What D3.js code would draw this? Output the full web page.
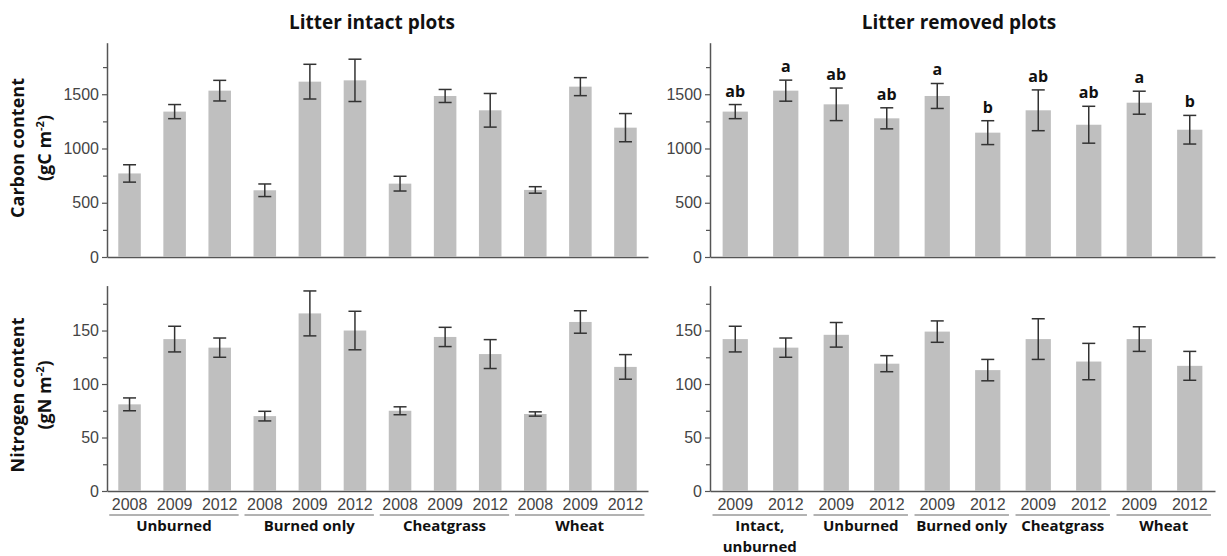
<!DOCTYPE html>
<html>
<head>
<meta charset="utf-8">
<script src="https://cdn.jsdelivr.net/npm/d3@7"></script>
<style>
  body { margin: 0; background: #fff; }
  svg text { font-family: "Liberation Sans", Arial, sans-serif; }
  .bold { font-family: "Open Sans", sans-serif; font-weight: 700; fill: #111; }
</style>
</head>
<body>
<svg id="chart" width="1227" height="556"></svg>
<script>
// ---------- data ----------
const intactGroups = ['Unburned', 'Burned only', 'Cheatgrass', 'Wheat']
const intactYears = ['2008', '2009', '2012']
const intactCarbon = [770, 1340, 1533, 615, 1616, 1628, 676, 1484, 1352, 618, 1570, 1192]
const intactCarbonErr = [80, 65, 95, 58, 160, 195, 68, 60, 155, 30, 83, 130]
const intactNitrogen = [81, 142, 134, 70, 166, 150, 75, 144, 128, 72, 158, 116]
const intactNitrogenErr = [6, 12, 9, 4.5, 21, 18, 3.7, 9, 13.5, 2, 10.5, 11.5]

const removedGroups = ['Intact,|unburned', 'Unburned', 'Burned only', 'Cheatgrass', 'Wheat']
const removedYears = ['2009', '2012']
const removedCarbon = [1340, 1533, 1407, 1278, 1484, 1146, 1352, 1219, 1422, 1173]
const removedCarbonErr = [65, 97, 150, 97, 115, 110, 188, 170, 106, 132]
const removedLetters = ['ab', 'a', 'ab', 'ab', 'a', 'b', 'ab', 'ab', 'a', 'b']
const removedNitrogen = [142, 134, 146, 119, 149, 113, 142, 121, 142, 117]
const removedNitrogenErr = [12, 9, 11.5, 7.5, 10, 10, 19, 17, 11.5, 13.5]

const carbonMajor = [0, 500, 1000, 1500]
const carbonMinor = [250, 750, 1250, 1750]
const nitrogenMajor = [0, 50, 100, 150]
const nitrogenMinor = [25, 75, 125, 175]

const titles = ['Litter intact plots', 'Litter removed plots']

// ---------- helpers ----------
const svg = d3.select('#chart')
const BAR = '#bfbfbf'
const AXIS = '#555'

function makeKeys (groups, years) {
  const keys = []
  groups.forEach(g => years.forEach(y => keys.push(g + '/' + y)))
  return keys
}

function drawYAxis (g, y, x0, major, minor) {
  g.append('g')
    .attr('transform', 'translate(' + x0 + ',0)')
    .call(d3.axisLeft(y).tickValues(minor).tickSize(4).tickSizeOuter(0).tickFormat(''))
    .call(a => a.select('.domain').remove())
    .call(a => a.selectAll('line').attr('stroke', AXIS).attr('stroke-width', 1.2))

  g.append('g')
    .attr('transform', 'translate(' + x0 + ',0)')
    .call(d3.axisLeft(y).tickValues(major).tickSize(5).tickSizeOuter(0).tickPadding(3)
      .tickFormat(d3.format('d')))
    .call(a => a.select('.domain').attr('stroke', AXIS).attr('stroke-width', 1.5))
    .call(a => a.selectAll('line').attr('stroke', AXIS).attr('stroke-width', 1.2))
    .call(a => a.selectAll('text').attr('font-size', 16).attr('fill', '#444')
      .attr('font-family', 'Liberation Sans, Arial, sans-serif'))
}

function drawPanel (opts) {
  const { x, y, keys, values, errs, years, groups, showX, letters } = opts
  const g = svg.append('g')

  // x axis line (and year labels on the bottom row)
  const xa = g.append('g')
    .attr('transform', 'translate(0,' + y(0) + ')')
    .call(d3.axisBottom(x).tickSize(0).tickPadding(8)
      .tickFormat(k => showX ? k.split('/')[1] : ''))
  xa.select('.domain').attr('stroke', AXIS).attr('stroke-width', 1.5)
  xa.selectAll('text').attr('font-size', 16).attr('fill', '#444')
    .attr('font-family', 'Liberation Sans, Arial, sans-serif')

  // bars
  g.selectAll('.bar')
    .data(keys)
    .enter()
    .append('rect')
    .attr('class', 'bar')
    .attr('x', k => x(k))
    .attr('width', x.bandwidth())
    .attr('y', (k, i) => y(values[i]))
    .attr('height', (k, i) => y(0) - y(values[i]))
    .attr('fill', BAR)

  // error bars
  const cap = 6.5
  const eb = g.selectAll('.err')
    .data(keys)
    .enter()
    .append('g')
    .attr('class', 'err')
    .attr('stroke', '#333')
    .attr('stroke-width', 1.5)
  eb.append('line')
    .attr('x1', k => x(k) + x.bandwidth() / 2)
    .attr('x2', k => x(k) + x.bandwidth() / 2)
    .attr('y1', (k, i) => y(values[i] + errs[i]))
    .attr('y2', (k, i) => y(values[i] - errs[i]))
  eb.append('line')
    .attr('x1', k => x(k) + x.bandwidth() / 2 - cap)
    .attr('x2', k => x(k) + x.bandwidth() / 2 + cap)
    .attr('y1', (k, i) => y(values[i] + errs[i]))
    .attr('y2', (k, i) => y(values[i] + errs[i]))
  eb.append('line')
    .attr('x1', k => x(k) + x.bandwidth() / 2 - cap)
    .attr('x2', k => x(k) + x.bandwidth() / 2 + cap)
    .attr('y1', (k, i) => y(values[i] - errs[i]))
    .attr('y2', (k, i) => y(values[i] - errs[i]))

  // significance letters
  if (letters) {
    g.selectAll('.letter')
      .data(keys)
      .enter()
      .append('text')
      .attr('class', 'bold')
      .attr('x', k => x(k) + x.bandwidth() / 2)
      .attr('y', (k, i) => y(values[i] + errs[i]) - 8)
      .attr('text-anchor', 'middle')
      .attr('font-size', 16)
      .text((k, i) => letters[i])
  }

  // group underlines + names (one text element per line)
  if (showX) {
    const step = x.step()
    groups.forEach(grp => {
      const first = x(grp + '/' + years[0]) + x.bandwidth() / 2
      const last = x(grp + '/' + years[years.length - 1]) + x.bandwidth() / 2
      const x1 = first - step * 0.45
      const x2 = last + step * 0.42
      const ly = y(0) + 24
      g.append('line')
        .attr('x1', x1).attr('x2', x2)
        .attr('y1', ly).attr('y2', ly)
        .attr('stroke', '#666').attr('stroke-width', 1)
      grp.split('|').forEach((part, j) => {
        g.append('text')
          .attr('class', 'bold')
          .attr('x', (x1 + x2) / 2)
          .attr('y', ly + 16 + j * 20.5)
          .attr('text-anchor', 'middle')
          .attr('font-size', 15)
          .text(part)
      })
    })
  }
  return g
}

function yTitle (cx, cy, line1, unit) {
  const g = svg.append('g').attr('transform', 'translate(' + cx + ',' + cy + ') rotate(-90)')
  g.append('text').attr('class', 'bold').attr('text-anchor', 'middle')
    .attr('y', 6).attr('font-size', 18).text(line1)
  const t = g.append('text').attr('class', 'bold').attr('text-anchor', 'middle')
    .attr('y', 33).attr('font-size', 18)
  t.append('tspan').text('(' + unit + ' m')
  t.append('tspan').attr('dy', -7).attr('font-size', 11).text('-2')
  t.append('tspan').attr('dy', 7).text(')')
}

// ---------- scales ----------
const intactKeys = makeKeys(intactGroups, intactYears)
const removedKeys = makeKeys(removedGroups, removedYears)

const xLeft = d3.scaleBand().domain(intactKeys).range([107, 648])
  .paddingInner(0.5).paddingOuter(0.25)
const xRight = d3.scaleBand().domain(removedKeys).range([710, 1215])
  .paddingInner(0.5).paddingOuter(0.25)

const yCarbon = d3.scaleLinear().domain([0, 1975]).range([257, 42.7])
const yNitrogen = d3.scaleLinear().domain([0, 192]).range([491, 285.6])

// ---------- panels ----------
drawPanel({ x: xLeft, y: yCarbon, keys: intactKeys, values: intactCarbon, errs: intactCarbonErr,
  years: intactYears, groups: intactGroups, showX: false })
drawPanel({ x: xRight, y: yCarbon, keys: removedKeys, values: removedCarbon, errs: removedCarbonErr,
  years: removedYears, groups: removedGroups, showX: false, letters: removedLetters })
drawPanel({ x: xLeft, y: yNitrogen, keys: intactKeys, values: intactNitrogen, errs: intactNitrogenErr,
  years: intactYears, groups: intactGroups, showX: true })
drawPanel({ x: xRight, y: yNitrogen, keys: removedKeys, values: removedNitrogen, errs: removedNitrogenErr,
  years: removedYears, groups: removedGroups, showX: true })

drawYAxis(svg.append('g'), yCarbon, 107, carbonMajor, carbonMinor)
drawYAxis(svg.append('g'), yCarbon, 710, carbonMajor, carbonMinor)
drawYAxis(svg.append('g'), yNitrogen, 107, nitrogenMajor, nitrogenMinor)
drawYAxis(svg.append('g'), yNitrogen, 710, nitrogenMajor, nitrogenMinor)

// ---------- titles ----------
svg.append('text').attr('class', 'bold').attr('x', 372).attr('y', 29)
  .attr('text-anchor', 'middle').attr('font-size', 19).text(titles[0])
svg.append('text').attr('class', 'bold').attr('x', 959).attr('y', 29)
  .attr('text-anchor', 'middle').attr('font-size', 19).text(titles[1])

yTitle(18, 148, 'Carbon content', 'gC')
yTitle(18, 395, 'Nitrogen content', 'gN')
</script>
</body>
</html>
